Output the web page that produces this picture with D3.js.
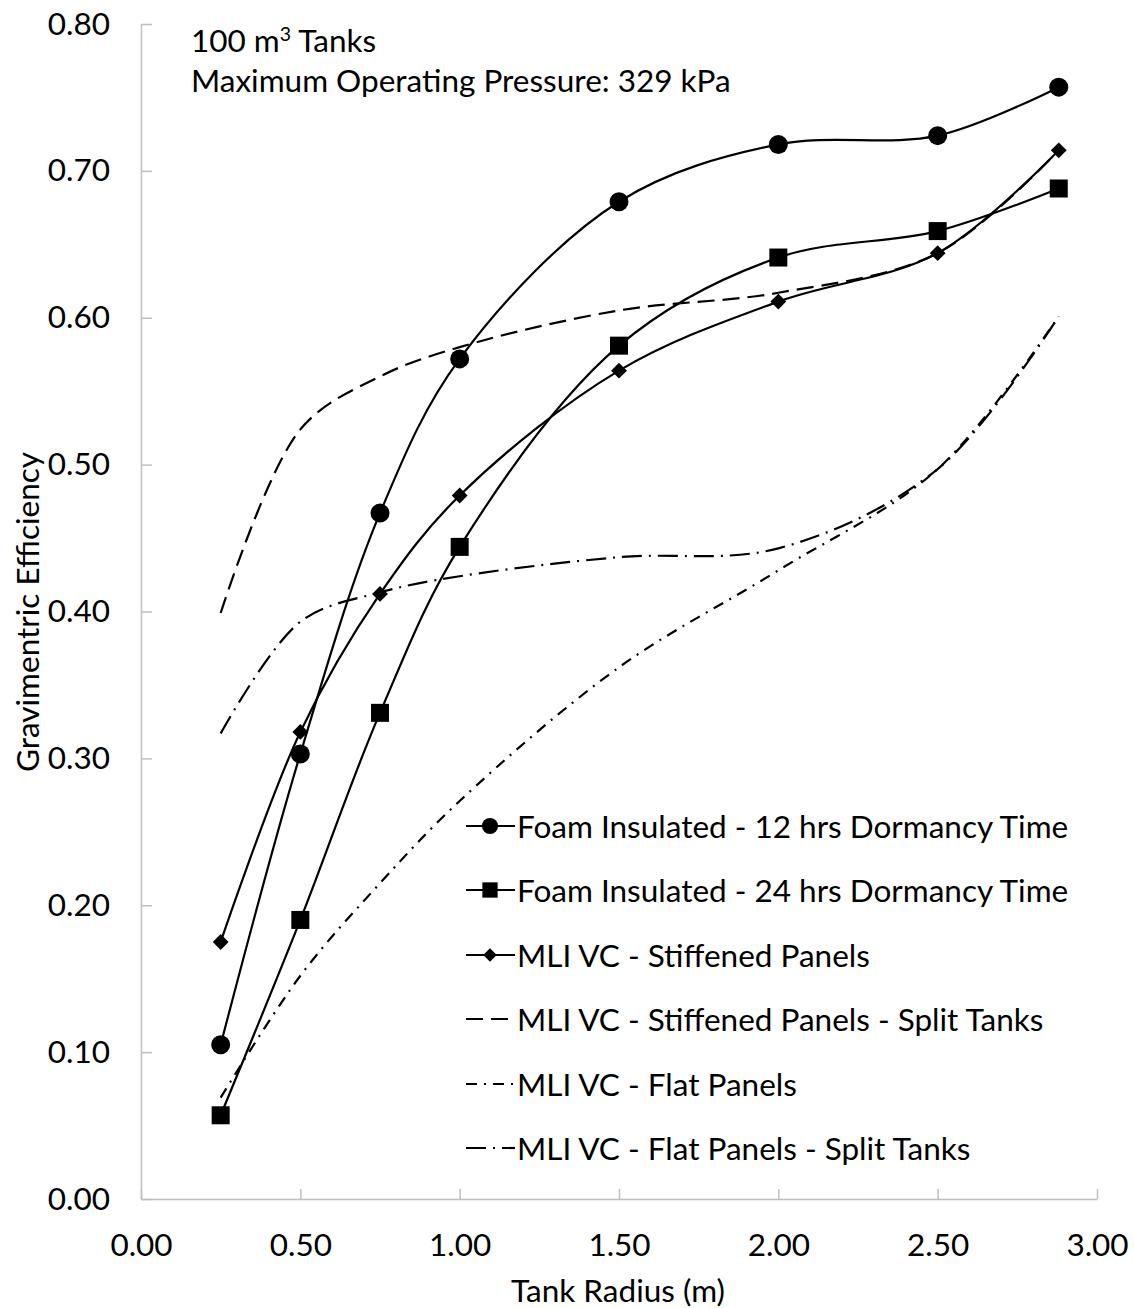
<!DOCTYPE html>
<html>
<head>
<meta charset="utf-8">
<script src="https://cdn.jsdelivr.net/npm/d3@7"></script>
<style>
  html, body { margin: 0; padding: 0; background: #fff; }
  text { font-family: Lato, "Open Sans", sans-serif; fill: #000; }
</style>
</head>
<body>
<svg id="chart" width="1134" height="1308"></svg>
<script>
// ---- data ----
const radius = [0.25, 0.5, 0.75, 1.0, 1.5, 2.0, 2.5, 2.88];
const foam12 = [0.105, 0.303, 0.467, 0.572, 0.679, 0.718, 0.724, 0.757];
const foam24 = [0.057, 0.190, 0.331, 0.444, 0.581, 0.641, 0.659, 0.688];
const mliStiff = [0.175, 0.318, 0.412, 0.479, 0.564, 0.611, 0.644, 0.714];
const mliStiffSplit = [0.399, 0.524, 0.560, 0.580, 0.605, 0.617, 0.644, 0.714];
const mliFlat = [0.069, 0.152, 0.215, 0.271, 0.362, 0.428, 0.497, 0.601];
const mliFlatSplit = [0.317, 0.393, 0.413, 0.424, 0.437, 0.443, 0.497, 0.601];
const seriesNames = [
  "Foam Insulated - 12 hrs Dormancy Time",
  "Foam Insulated - 24 hrs Dormancy Time",
  "MLI VC - Stiffened Panels",
  "MLI VC - Stiffened Panels - Split Tanks",
  "MLI VC - Flat Panels",
  "MLI VC - Flat Panels - Split Tanks"
];
const xTicks = [0, 0.5, 1.0, 1.5, 2.0, 2.5, 3.0];
const yTicks = [0, 0.1, 0.2, 0.3, 0.4, 0.5, 0.6, 0.7, 0.8];
const xTitle = "Tank Radius (m)";
const yTitle = "Gravimentric Efficiency";

// ---- styles ----
const styles = [
  { values: foam12, marker: "circle", dash: null },
  { values: foam24, marker: "square", dash: null },
  { values: mliStiff, marker: "diamond", dash: null },
  { values: mliStiffSplit, marker: null, dash: "17,8" },
  { values: mliFlat, marker: null, dash: "11,7,2,7" },
  { values: mliFlatSplit, marker: null, dash: "20,7,2,7" }
];

const svg = d3.select("#chart");
const FS = 31.5;
const x = d3.scaleLinear().domain([0, 3]).range([141, 1097]);
const y = d3.scaleLinear().domain([0, 0.8]).range([1199, 24]);
const axisColor = "#bfbfbf";

// axes
const gx = svg.append("g").attr("transform", `translate(0,${y(0)})`)
  .call(d3.axisBottom(x).tickValues(xTicks).tickSizeInner(-10).tickSizeOuter(0).tickPadding(30).tickFormat(d3.format(".2f")));
const gy = svg.append("g").attr("transform", `translate(${x(0)},0)`)
  .call(d3.axisLeft(y).tickValues(yTicks).tickSizeInner(-11).tickSizeOuter(0).tickPadding(31).tickFormat(d3.format(".2f")));
[gx, gy].forEach(g => {
  g.select(".domain").attr("stroke", axisColor).attr("stroke-width", 1.5);
  g.selectAll(".tick line").attr("stroke", axisColor).attr("stroke-width", 1.5);
  g.selectAll(".tick text").style("font-size", FS + "px").attr("fill", "#000");
});
gx.selectAll(".tick text").attr("dy", "0.35em").attr("y", 46);

svg.append("text").attr("x", 618).attr("y", 1290).attr("text-anchor", "middle")
  .attr("dominant-baseline", "central").style("font-size", FS + "px").text(xTitle);
svg.append("text").attr("transform", "translate(27,612) rotate(-90)").attr("text-anchor", "middle")
  .attr("dominant-baseline", "central").style("font-size", FS + "px").text(yTitle);

// annotation
const ann = svg.append("text").attr("x", 191).attr("y", 52).style("font-size", FS + "px");
ann.append("tspan").text("100 m");
ann.append("tspan").attr("dy", -11).style("font-size", (FS * 0.62) + "px").text("3");
ann.append("tspan").attr("dy", 11).text(" Tanks");
svg.append("text").attr("x", 191).attr("y", 92).style("font-size", FS + "px")
  .text("Maximum Operating Pressure: 329 kPa");

// lines
const line = d3.line().x(d => x(d[0])).y(d => y(d[1])).curve(d3.curveCatmullRom.alpha(0.5));
function drawMarker(g, type, cx, cy, s) {
  if (type === "circle") g.append("circle").attr("cx", cx).attr("cy", cy).attr("r", 9.5 * s).attr("fill", "#000");
  else if (type === "square") g.append("rect").attr("x", cx - 9 * s).attr("y", cy - 9 * s).attr("width", 18 * s).attr("height", 18 * s).attr("fill", "#000");
  else if (type === "diamond") g.append("path").attr("d", d3.symbol(d3.symbolDiamond2, 160 * s * s)()).attr("transform", `translate(${cx},${cy})`).attr("fill", "#000");
}
const plot = svg.append("g");
const order = [5, 4, 3, 2, 1, 0];
order.forEach(i => {
  const st = styles[i];
  const pts = radius.map((r, k) => [r, st.values[k]]);
  plot.append("path").attr("d", line(pts)).attr("fill", "none").attr("stroke", "#000")
    .attr("stroke-width", 2.2).attr("stroke-dasharray", st.dash);
  if (st.marker) pts.forEach(p => drawMarker(plot, st.marker, x(p[0]), y(p[1]), 1));
});

// legend
const legY = [826, 890, 955, 1019, 1084, 1148];
const leg = svg.append("g");
seriesNames.forEach((name, i) => {
  const st = styles[i];
  const yy = legY[i];
  leg.append("line").attr("x1", 466).attr("x2", 515).attr("y1", yy).attr("y2", yy)
    .attr("stroke", "#000").attr("stroke-width", 2.2).attr("stroke-dasharray", st.dash);
  if (st.marker) drawMarker(leg, st.marker, 490, yy, 0.85);
  leg.append("text").attr("x", 517).attr("y", yy).attr("dominant-baseline", "central")
    .style("font-size", FS + "px").text(name);
});
</script>
</body>
</html>
